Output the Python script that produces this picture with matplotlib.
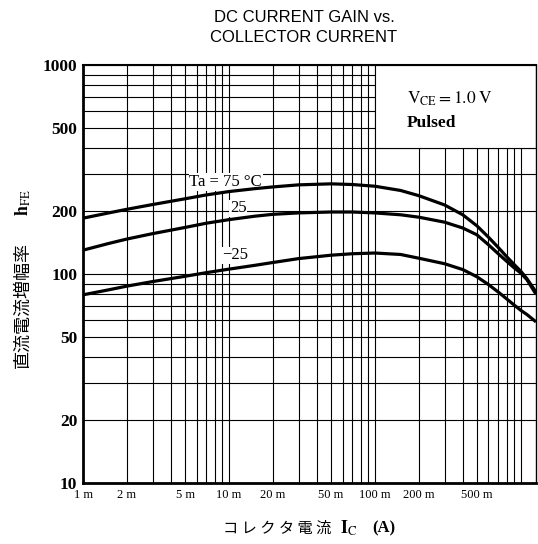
import numpy as np
import matplotlib
matplotlib.use("Agg")
import matplotlib.pyplot as plt
from matplotlib.patches import Rectangle

plt.rcParams['font.family'] = ['Liberation Serif', 'DejaVu Sans']
plt.rcParams['mathtext.fontset'] = 'stix'

# collector current (A)
ic = [0.001, 0.0015, 0.002, 0.003, 0.005, 0.007, 0.01, 0.015, 0.02, 0.03,
      0.05, 0.07, 0.1, 0.15, 0.2, 0.3, 0.4, 0.5, 0.6, 0.7, 0.8, 0.9, 1.0,
      1.1, 1.27]
# hFE at each temperature
hfe_75 = [185, 196, 204, 215, 229, 239, 248, 256, 261, 267, 270, 268, 263,
          251, 237, 214, 192, 170, 150, 134, 121, 111, 103, 95, 82]
hfe_25 = [130, 140, 147, 156, 167, 175, 182, 189, 193, 196, 198, 198, 196,
          192, 187, 177, 166, 154, 138, 125, 115, 107, 101, 94, 80]
hfe_m25 = [79.5, 84, 87.5, 92, 97.5, 101.5, 105.5, 110, 113.5, 118.5, 123, 125, 126,
           124, 119, 112, 105, 97, 89, 82, 76, 71, 67, 64, 59]

xtick_vals = [0.001, 0.002, 0.005, 0.01, 0.02, 0.05, 0.1, 0.2, 0.5]
xtick_labels = ["1 m", "2 m", "5 m", "10 m", "20 m", "50 m", "100 m", "200 m", "500 m"]
ytick_vals = [10, 20, 50, 100, 200, 500, 1000]
ytick_labels = ["10", "20", "50", "100", "200", "500", "1000"]

W, H = 538, 544
fig = plt.figure(figsize=(W / 100, H / 100), dpi=100)
ax = fig.add_axes([83 / W, 1 - 483 / H, (536 - 83) / W, (483 - 65) / H])
ax.set_xscale('log')
ax.set_yscale('log')
xmax = 1.27
ax.set_xlim(0.001, xmax)
ax.set_ylim(10, 1000)

# grid: every 1..9 in each decade
gx = [m * 10.0 ** e for e in range(-3, 1) for m in range(1, 10) if m * 10.0 ** e <= xmax]
gy = [m * 10.0 ** e for e in range(1, 3) for m in range(1, 10)] + [1000]
for x in gx:
    ax.axvline(x, color='black', lw=0.8, zorder=1)
for y in gy:
    ax.axhline(y, color='black', lw=0.8, zorder=1)

# condition box (no grid inside)
ax.add_patch(Rectangle((0.1, 400), xmax - 0.1, 600, facecolor='white',
                       edgecolor='black', lw=0.8, zorder=1.5))
ax.text(0.165, 690, r"$\mathrm{V_{CE}=1.0\ V}$", fontsize=12.5, va='center', zorder=3)
ax.text(0.165, 530, "Pulsed", fontsize=12.5, fontweight='bold', va='center', zorder=3)

for h in (hfe_75, hfe_25, hfe_m25):
    ax.plot(ic, h, color='black', lw=2.3, zorder=4, solid_capstyle='butt')

# labels hide the grid behind them, curves stay on top
box = dict(facecolor='white', edgecolor='none', pad=0.5)
ax.text(0.0095, 276, "Ta = 75 \u00b0C", fontsize=12, ha='center', va='center', bbox=box, zorder=3)
ax.text(0.0116, 206, "25", fontsize=12, ha='center', va='center', bbox=box, zorder=3)
ax.text(0.011, 123, "\u221225", fontsize=12, ha='center', va='center', bbox=box, zorder=3)

ax.minorticks_off()
ax.set_xticks(xtick_vals)
ax.set_xticklabels(xtick_labels, fontsize=9)
ax.set_yticks(ytick_vals)
ax.set_yticklabels(ytick_labels, fontsize=12.5, fontweight='bold')
ax.tick_params(length=0)
ax.tick_params(axis='x', pad=4)
ax.tick_params(axis='y', pad=4)

for s in ('left', 'bottom'):
    ax.spines[s].set_linewidth(2.0)
ax.spines['top'].set_linewidth(1.5)
ax.spines['right'].set_linewidth(1.0)

fig.text(304 / W, 1 - 17 / H, "DC CURRENT GAIN vs.", family='Liberation Sans',
         fontsize=12, ha='center', va='center')
fig.text(304 / W, 1 - 37 / H, "COLLECTOR CURRENT", family='Liberation Sans',
         fontsize=12, ha='center', va='center')

# x label
fig.text(223 / W, 1 - 528 / H, "コ レ ク タ 電 流", family=['Noto Sans CJK JP'],
         fontsize=11, ha='left', va='center')
fig.text(340 / W, 1 - 528 / H, r"$\mathbf{I}_{\mathrm{C}}$", fontsize=13,
         ha='left', va='center')
fig.text(372 / W, 1 - 528 / H, "(A)", fontsize=12, fontweight='bold',
         ha='left', va='center')

# y label
fig.text(23 / W, 1 - 305 / H, "直流電流増幅率", family=['Noto Sans CJK JP'],
         fontsize=13, rotation=90, ha='center', va='center')
fig.text(23 / W, 1 - 203 / H, r"$\mathbf{h}_{\mathrm{FE}}$", fontsize=13,
         rotation=90, ha='center', va='center')

fig.savefig("out.png", dpi=100)
